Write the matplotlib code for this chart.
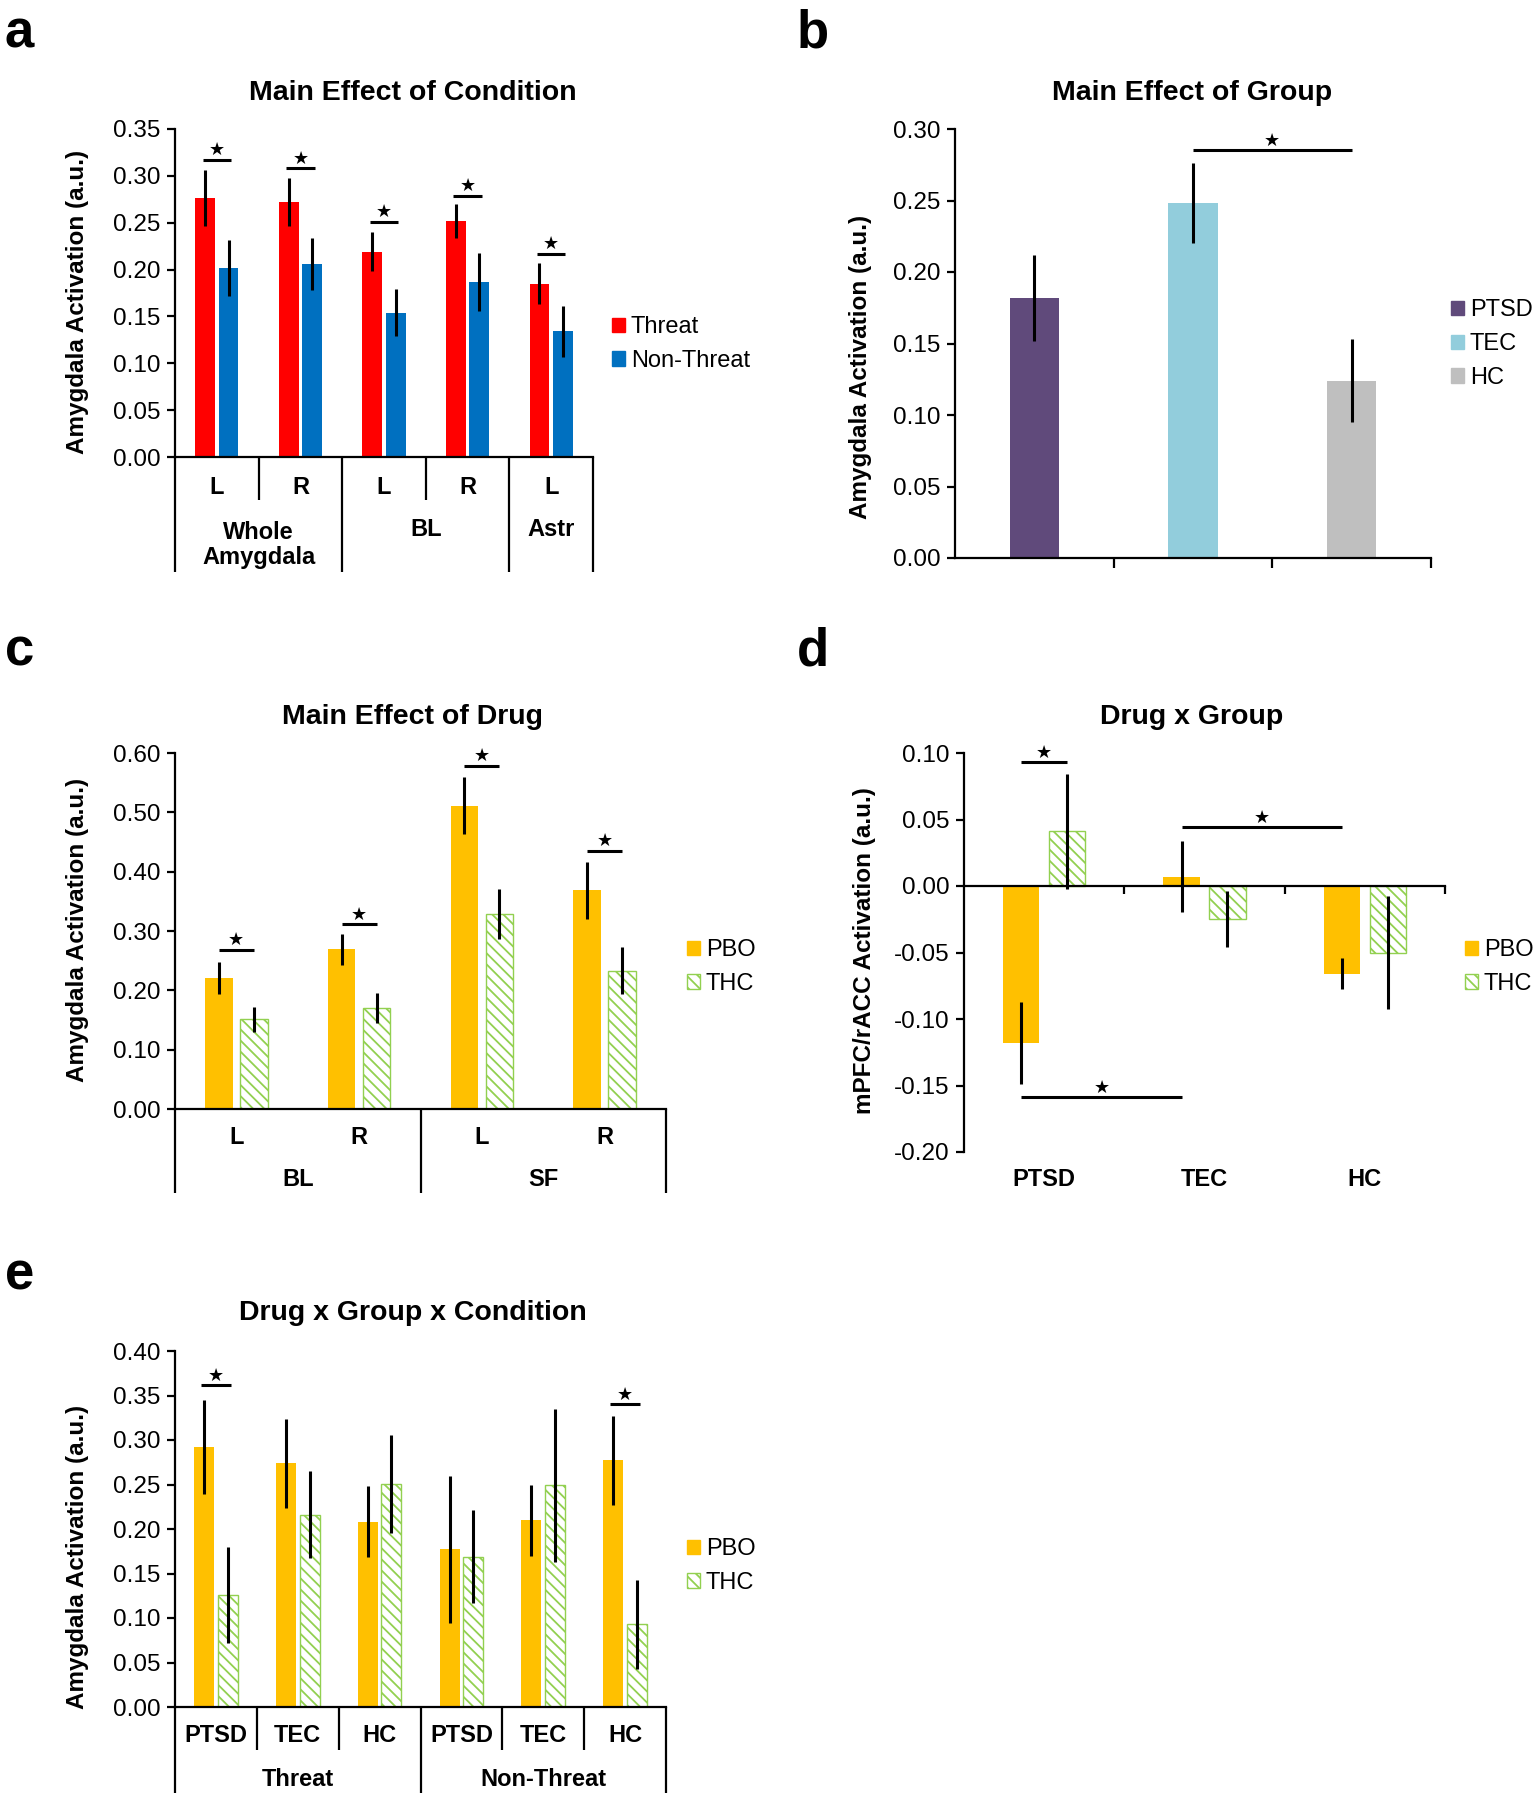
import numpy as np
import matplotlib
matplotlib.use('Agg')
import matplotlib.pyplot as plt
from matplotlib.patches import Patch
from matplotlib.transforms import blended_transform_factory

plt.rcParams['font.family'] = ['Liberation Sans', 'DejaVu Sans']
plt.rcParams['hatch.linewidth'] = 1.3
plt.rcParams['axes.unicode_minus'] = False

# ---- data ----
# a: main effect of condition
a_regions = ['L', 'R', 'L', 'R', 'L']
a_groups = ['Whole\nAmygdala', 'BL', 'Astr']
a_threat = [0.276, 0.272, 0.219, 0.252, 0.185]
a_threat_err = [0.030, 0.026, 0.021, 0.018, 0.022]
a_nonthreat = [0.202, 0.206, 0.154, 0.187, 0.134]
a_nonthreat_err = [0.030, 0.028, 0.025, 0.031, 0.027]
a_sig = [0.317, 0.308, 0.251, 0.279, 0.217]

# b: main effect of group
b_groups = ['PTSD', 'TEC', 'HC']
b_values = [0.182, 0.248, 0.124]
b_err = [0.030, 0.028, 0.029]
b_sig = 0.285

# c: main effect of drug
c_regions = ['L', 'R', 'L', 'R']
c_groups = ['BL', 'SF']
c_pbo = [0.221, 0.269, 0.511, 0.369]
c_pbo_err = [0.027, 0.026, 0.048, 0.048]
c_thc = [0.151, 0.170, 0.328, 0.233]
c_thc_err = [0.021, 0.025, 0.042, 0.040]
c_sig = [0.268, 0.311, 0.578, 0.435]

# d: drug x group (mPFC/rACC)
d_groups = ['PTSD', 'TEC', 'HC']
d_pbo = [-0.118, 0.007, -0.066]
d_pbo_err = [0.031, 0.0265, 0.0115]
d_thc = [0.041, -0.025, -0.050]
d_thc_err = [0.043, 0.021, 0.0425]
d_sig_ptsd = 0.093
d_sig_tec_hc = 0.044
d_sig_ptsd_tec = -0.159

# e: drug x group x condition
e_groups = ['PTSD', 'TEC', 'HC', 'PTSD', 'TEC', 'HC']
e_conditions = ['Threat', 'Non-Threat']
e_pbo = [0.292, 0.274, 0.208, 0.177, 0.210, 0.277]
e_pbo_err = [0.053, 0.050, 0.040, 0.083, 0.040, 0.050]
e_thc = [0.126, 0.216, 0.251, 0.169, 0.249, 0.093]
e_thc_err = [0.054, 0.049, 0.055, 0.052, 0.086, 0.050]
e_sig_idx = [0, 5]
e_sig = [0.3615, 0.340]

# colours
RED, BLUE = '#FF0000', '#0070C0'
PURPLE, LBLUE, GREY = '#604A7B', '#92CDDC', '#BFBFBF'
PBO, THC = '#FFC000', '#92D050'
HATCH = '\\\\\\'

W, H = 1537, 1800
fig = plt.figure(figsize=(W / 100, H / 100), dpi=100)


def axes_px(l, t, r, b):
    ax = fig.add_axes([l / W, 1 - b / H, (r - l) / W, (b - t) / H])
    ax.h_px = b - t
    for s in ['top', 'right']:
        ax.spines[s].set_visible(False)
    for s in ['left', 'bottom']:
        ax.spines[s].set_linewidth(1.6)
    ax.tick_params(axis='y', direction='out', length=5.5, width=1.6, labelsize=17.5, pad=5)
    return ax


def yticks(ax, lo, hi, step):
    ax.set_ylim(lo, hi)
    ax.set_yticks(np.round(np.arange(lo, hi + step / 2, step), 2))
    ax.set_yticklabels(['%.2f' % (v + 0.0) for v in np.round(np.arange(lo, hi + step / 2, step), 2)])


def drop(ax, x, depth):
    tr = blended_transform_factory(ax.transData, ax.transAxes)
    ax.plot([x, x], [0, -depth / ax.h_px], color='black', lw=1.6, transform=tr,
            clip_on=False, solid_capstyle='butt')


def below(ax, x, depth, txt):
    tr = blended_transform_factory(ax.transData, ax.transAxes)
    ax.text(x, -depth / ax.h_px, txt, transform=tr, ha='center', va='center',
            fontsize=17, fontweight='bold', linespacing=1.15)


def sig(ax, x0, x1, y):
    ax.plot([x0, x1], [y, y], color='black', lw=2.2, solid_capstyle='butt', zorder=4)
    ax.annotate('\u2605', ((x0 + x1) / 2, y), xytext=(0, 0.5), textcoords='offset points',
                ha='center', va='bottom', fontsize=13, family='DejaVu Sans')


def errs(ax, x, v, e):
    ax.errorbar(x, v, yerr=e, fmt='none', ecolor='black', elinewidth=2.2, capsize=0, zorder=3)


def legend(ax, handles, x_px, y_px):
    ax.legend(handles=handles, loc='center left', bbox_to_anchor=(x_px / W, 1 - y_px / H),
              bbox_transform=fig.transFigure, frameon=False, fontsize=17,
              handlelength=0.55, handleheight=0.55, handletextpad=0.25,
              labelspacing=0.5, borderpad=0, borderaxespad=0)


def ylabel(x_px, y_px, txt):
    fig.text(x_px / W, 1 - y_px / H, txt, rotation=90, ha='center', va='center',
             fontsize=17.5, fontweight='bold')


def title(x_px, y_px, txt):
    fig.text(x_px / W, 1 - y_px / H, txt, ha='center', va='center',
             fontsize=20.5, fontweight='bold')


def letter(x_px, y_px, txt):
    fig.text(x_px / W, 1 - y_px / H, txt, ha='left', va='baseline',
             fontsize=38, fontweight='bold')


thc_patch = dict(facecolor='white', edgecolor=THC, hatch=HATCH, linewidth=1)

# ---------------- a ----------------
ax = axes_px(175, 129, 593, 457)
x = np.arange(len(a_regions))
bw, off = 0.235, 0.14
ax.bar(x - off, a_threat, bw, color=RED)
ax.bar(x + off, a_nonthreat, bw, color=BLUE)
errs(ax, x - off, a_threat, a_threat_err)
errs(ax, x + off, a_nonthreat, a_nonthreat_err)
for i, yv in enumerate(a_sig):
    sig(ax, x[i] - 0.17, x[i] + 0.17, yv)
ax.set_xlim(-0.5, len(x) - 0.5)
yticks(ax, 0, 0.35, 0.05)
ax.set_xticks([])
for xd in [0.5, 2.5]:
    drop(ax, xd, 43)
for xd in [-0.5, 1.5, 3.5, 4.5]:
    drop(ax, xd, 115)
for i, r in enumerate(a_regions):
    below(ax, x[i], 30, r)
for xc, g in zip([0.5, 2.5, 4.0], a_groups):
    below(ax, xc, 88 if '\n' in g else 73, g)
legend(ax, [Patch(color=RED, label='Threat'), Patch(color=BLUE, label='Non-Threat')], 612, 344)
ylabel(78, 302, 'Amygdala Activation (a.u.)')
title(413, 93, 'Main Effect of Condition')
letter(5, 47, 'a')

# ---------------- b ----------------
ax = axes_px(955, 129, 1431, 558)
x = np.arange(len(b_groups))
ax.bar(x, b_values, 0.31, color=[PURPLE, LBLUE, GREY])
errs(ax, x, b_values, b_err)
sig(ax, x[1], x[2], b_sig)
ax.set_xlim(-0.5, 2.5)
yticks(ax, 0, 0.30, 0.05)
ax.set_xticks([0.5, 1.5, 2.5])
ax.set_xticklabels([])
ax.tick_params(axis='x', direction='out', length=7, width=1.6)
legend(ax, [Patch(color=c, label=g) for c, g in zip([PURPLE, LBLUE, GREY], b_groups)], 1451, 344)
ylabel(861, 367, 'Amygdala Activation (a.u.)')
title(1192, 93, 'Main Effect of Group')
letter(797, 47, 'b')

# ---------------- c ----------------
ax = axes_px(175, 753, 666, 1109)
x = np.arange(len(c_regions))
bw, off = 0.224, 0.142
ax.bar(x - off, c_pbo, bw, color=PBO)
ax.bar(x + off, c_thc, bw, **thc_patch)
errs(ax, x - off, c_pbo, c_pbo_err)
errs(ax, x + off, c_thc, c_thc_err)
for i, yv in enumerate(c_sig):
    sig(ax, x[i] - off, x[i] + off, yv)
ax.set_xlim(-0.5, 3.5)
yticks(ax, 0, 0.60, 0.10)
ax.set_xticks([])
for xd in [-0.5, 1.5, 3.5]:
    drop(ax, xd, 84)
for i, r in enumerate(c_regions):
    below(ax, x[i], 29, r)
for xc, g in zip([0.5, 2.5], c_groups):
    below(ax, xc, 71, g)
legend(ax, [Patch(color=PBO, label='PBO'), Patch(label='THC', **thc_patch)], 687, 967)
ylabel(78, 930, 'Amygdala Activation (a.u.)')
title(413, 717, 'Main Effect of Drug')
letter(5, 666, 'c')

# ---------------- d ----------------
ax = axes_px(964, 753, 1445, 1152)
x = np.arange(len(d_groups))
bw, off = 0.226, 0.143
ax.bar(x - off, d_pbo, bw, color=PBO)
ax.bar(x + off, d_thc, bw, **thc_patch)
errs(ax, x - off, d_pbo, d_pbo_err)
errs(ax, x + off, d_thc, d_thc_err)
sig(ax, x[0] - off, x[0] + off, d_sig_ptsd)
sig(ax, x[1] - off, x[2] - off, d_sig_tec_hc)
sig(ax, x[0] - off, x[1] - off, d_sig_ptsd_tec)
ax.set_xlim(-0.5, 2.5)
yticks(ax, -0.20, 0.10, 0.05)
ax.spines['bottom'].set_position(('data', 0))
ax.set_xticks([0.5, 1.5, 2.5])
ax.set_xticklabels([])
ax.tick_params(axis='x', direction='out', length=6, width=1.6)
for i, g in enumerate(d_groups):
    below(ax, x[i], 28, g)
legend(ax, [Patch(color=PBO, label='PBO'), Patch(label='THC', **thc_patch)], 1465, 967)
ylabel(864, 951, 'mPFC/rACC Activation (a.u.)')
title(1192, 717, 'Drug x Group')
letter(797, 666, 'd')

# ---------------- e ----------------
ax = axes_px(175, 1351, 666, 1707)
x = np.arange(len(e_groups))
bw, off = 0.244, 0.145
ax.bar(x - off, e_pbo, bw, color=PBO)
ax.bar(x + off, e_thc, bw, **thc_patch)
errs(ax, x - off, e_pbo, e_pbo_err)
errs(ax, x + off, e_thc, e_thc_err)
for i, yv in zip(e_sig_idx, e_sig):
    sig(ax, x[i] - 0.18, x[i] + 0.18, yv)
ax.set_xlim(-0.5, 5.5)
yticks(ax, 0, 0.40, 0.05)
ax.set_xticks([])
for xd in [0.5, 1.5, 3.5, 4.5]:
    drop(ax, xd, 43)
for xd in [-0.5, 2.5, 5.5]:
    drop(ax, xd, 86)
for i, g in enumerate(e_groups):
    below(ax, x[i], 28, g)
for xc, c in zip([1.0, 4.0], e_conditions):
    below(ax, xc, 72, c)
legend(ax, [Patch(color=PBO, label='PBO'), Patch(label='THC', **thc_patch)], 687, 1566)
ylabel(78, 1557, 'Amygdala Activation (a.u.)')
title(413, 1313, 'Drug x Group x Condition')
letter(5, 1289, 'e')

fig.savefig('out.png', dpi=100, facecolor='white')
